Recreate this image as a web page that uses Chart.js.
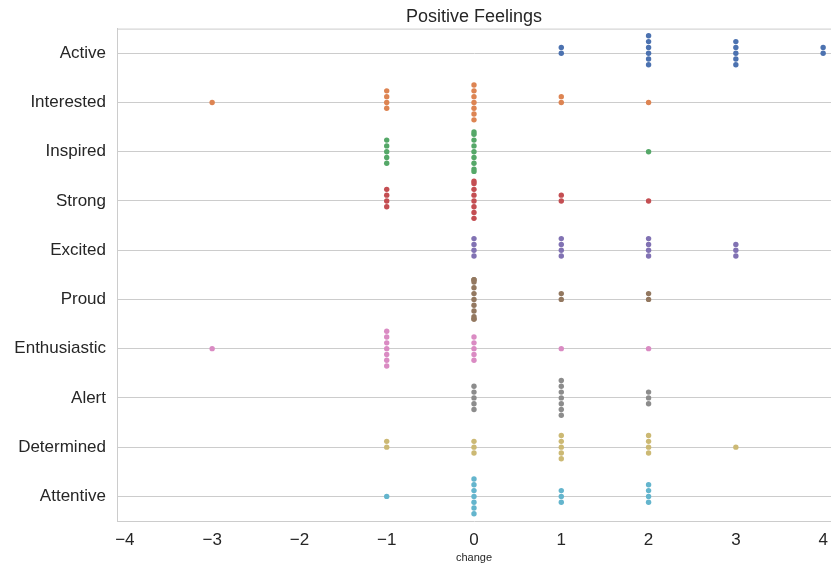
<!DOCTYPE html>
<html>
<head>
<meta charset="utf-8">
<title>Positive Feelings</title>
<script src="https://cdn.jsdelivr.net/npm/chart.js@4/dist/chart.umd.min.js"></script>
<style>
  html, body { margin: 0; padding: 0; background: #ffffff; }
  #wrap { width: 831px; height: 569px; }
</style>
</head>
<body>
<div id="wrap"><canvas id="c" width="831" height="569"></canvas></div>
<script>
// Change scores observed for each feeling
const feelings = ['Active', 'Interested', 'Inspired', 'Strong', 'Excited',
                  'Proud', 'Enthusiastic', 'Alert', 'Determined', 'Attentive'];
const changeValues = [-3, -2, -1, 0, 1, 2, 3, 4];

// Number of respondents at each change value (aligned with changeValues)
const activeCounts       = [0, 0, 0, 0, 2, 6, 5, 2];
const interestedCounts   = [1, 0, 4, 7, 2, 1, 0, 0];
const inspiredCounts     = [0, 0, 5, 9, 0, 1, 0, 0];
const strongCounts       = [0, 0, 4, 8, 2, 1, 0, 0];
const excitedCounts      = [0, 0, 0, 4, 4, 4, 3, 0];
const proudCounts        = [0, 0, 0, 11, 2, 2, 0, 0];
const enthusiasticCounts = [1, 0, 7, 5, 1, 1, 0, 0];
const alertCounts        = [0, 0, 0, 5, 7, 3, 0, 0];
const determinedCounts   = [0, 0, 2, 3, 5, 4, 1, 0];
const attentiveCounts    = [0, 0, 1, 7, 3, 4, 0, 0];

const xTickValues = [-4, -3, -2, -1, 0, 1, 2, 3, 4];

const countsByFeeling = [activeCounts, interestedCounts, inspiredCounts, strongCounts,
  excitedCounts, proudCounts, enthusiasticCounts, alertCounts, determinedCounts, attentiveCounts];

// seaborn "deep" palette
const palette = ['#4c72b0', '#dd8452', '#55a868', '#c44e52', '#8172b3',
                 '#937860', '#da8bc3', '#8c8c8c', '#ccb974', '#64b5cd'];

const DOT_GAP = 5.8;      // vertical spacing between stacked dots, px
const BAND_WIDTH = 0.8;   // fraction of a category band the swarm may use
const GRID = '#cccccc';
const INK = '#262626';
const FONT = "'Liberation Sans', Arial, Helvetica, sans-serif";

// One observation per point; k is its stacking order inside its group
const datasets = feelings.map((name, fi) => {
  const pts = [];
  countsByFeeling[fi].forEach((n, vi) => {
    for (let k = 0; k < n; k++) pts.push({ x: changeValues[vi], y: fi, k: k });
  });
  return {
    label: name,
    data: pts,
    backgroundColor: palette[fi],
    borderWidth: 0,
    pointRadius: 2.7,
    pointHoverRadius: 3.5
  };
});

// Beeswarm: spread coincident points around the category line, clamped to the band
const swarmPlugin = {
  id: 'swarm',
  afterDatasetsUpdate(chart) {
    const ys = chart.scales.y;
    const band = Math.abs(ys.getPixelForValue(1) - ys.getPixelForValue(0));
    const lim = band * BAND_WIDTH / 2;
    chart.data.datasets.forEach((ds, i) => {
      const meta = chart.getDatasetMeta(i);
      meta.data.forEach((el, j) => {
        const k = ds.data[j].k;
        const step = Math.ceil(k / 2) * (k % 2 ? -1 : 1);
        const off = Math.max(-lim, Math.min(lim, step * DOT_GAP));
        el.y += off;
      });
    });
  }
};

// Light frame line along the top of the plot area
const framePlugin = {
  id: 'frame',
  beforeDatasetsDraw(chart) {
    const a = chart.chartArea, ctx = chart.ctx;
    ctx.save();
    ctx.strokeStyle = GRID;
    ctx.lineWidth = 1;
    ctx.beginPath();
    ctx.moveTo(a.left, a.top + 0.5);
    ctx.lineTo(a.right, a.top + 0.5);
    ctx.stroke();
    ctx.restore();
  }
};

new Chart(document.getElementById('c'), {
  type: 'scatter',
  data: { datasets },
  plugins: [swarmPlugin, framePlugin],
  options: {
    responsive: false,
    animation: false,
    devicePixelRatio: 1,
    layout: { autoPadding: false, padding: 0 },
    plugins: {
      legend: { display: false },
      title: {
        display: true,
        fullSize: false,
        text: 'Positive Feelings',
        color: INK,
        font: { family: FONT, size: 18, weight: 'normal' },
        padding: { top: 6, bottom: 1 }
      },
      tooltip: {
        callbacks: {
          label: (ctx) => ctx.dataset.label + ': ' + ctx.raw.x
        }
      }
    },
    scales: {
      x: {
        type: 'linear',
        min: -4.09,
        max: 4.09,
        afterBuildTicks: (s) => { s.ticks = xTickValues.map(v => ({ value: v })); },
        afterFit: (s) => { s.height = 48; s.paddingLeft = 0; s.paddingRight = 0; },
        grid: { display: false, drawTicks: false },
        border: { display: true, color: GRID, width: 1 },
        ticks: {
          color: INK,
          padding: 9,
          font: { family: FONT, size: 17 },
          callback: (v) => String(v).replace('-', '\u2212')
        },
        title: {
          display: true,
          text: 'change',
          color: INK,
          font: { family: FONT, size: 11 },
          padding: { top: 0, bottom: 4 }
        }
      },
      y: {
        type: 'linear',
        min: -0.5,
        max: 9.5,
        reverse: true,
        afterBuildTicks: (s) => { s.ticks = feelings.map((_, i) => ({ value: i })); },
        afterFit: (s) => { s.width = 117; s.paddingTop = 0; s.paddingBottom = 0; },
        grid: { display: true, color: GRID, lineWidth: 1, drawTicks: false },
        border: { display: true, color: GRID, width: 1 },
        ticks: {
          color: INK,
          padding: 11,
          font: { family: FONT, size: 17 },
          callback: (v) => feelings[v]
        }
      }
    }
  }
});
</script>
</body>
</html>
